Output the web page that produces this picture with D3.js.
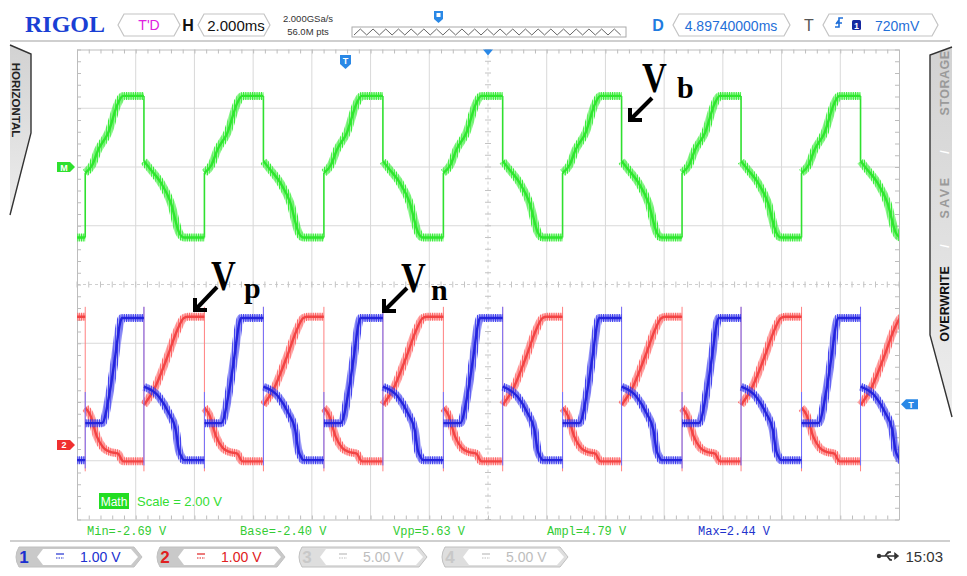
<!DOCTYPE html>
<html>
<head>
<meta charset="utf-8">
<script src="https://cdn.jsdelivr.net/npm/d3@7/dist/d3.min.js"></script>
<style>
body { margin: 0; background: #fff; }
svg { display: block; }
text { font-family: "Liberation Sans", Arial, sans-serif; }
</style>
</head>
<body>
<script>
var W = 967, H = 576;
var X0 = 77, X1 = 899, Y0 = 49.5, Y1 = 519.5;
var SERIF = "'Liberation Serif', 'Times New Roman', serif";
var MONO = "'Liberation Mono', 'DejaVu Sans Mono', monospace";

// time base: 14 div x 2 ms, 8 vertical div
var timeSpan = [0, 28];
var hDivs = 14, vDivs = 8;

// edge times (ms from left edge)
var riseTimes = [0.28, 4.34, 8.41, 12.48, 16.54, 20.61, 24.68];
var fallTimes = [-1.77, 2.28, 6.35, 10.42, 14.50, 18.55, 22.62, 26.69];

// half period shapes, [ms after edge, volts]
var mathOn  = [[0, -0.20], [0.24, 0.07], [0.44, 0.58], [0.78, 1.16], [1.12, 2.18], [1.29, 2.42], [2.10, 2.42]];
var mathOff = [[0, 0.20], [0.24, -0.10], [0.58, -0.54], [0.92, -1.23], [1.19, -2.21], [1.36, -2.40], [2.10, -2.40]];
var vpOn  = [[0, 0.63], [0.17, 0.51], [0.40, 0.14], [0.62, -0.05], [0.85, -0.12], [1.12, -0.15], [1.25, -0.26], [1.30, -0.28], [2.10, -0.28]];
var vpOff = [[0, 0.68], [0.34, 0.94], [0.80, 1.50], [1.14, 1.96], [1.36, 2.16], [1.50, 2.18], [2.10, 2.18]];
var vnOn  = [[0, 0.37], [0.57, 0.37], [0.85, 0.94], [1.02, 1.50], [1.19, 2.08], [1.25, 2.16], [2.10, 2.16]];
var vnOff = [[0, 0.99], [0.51, 0.82], [0.85, 0.54], [1.08, 0.26], [1.19, -0.09], [1.30, -0.22], [1.36, -0.26], [2.10, -0.26]];

// spike extents on the edges (volts)
var vpSpikeRise = [-0.45, 2.35], vpSpikeFall = [-0.45, 2.35];
var vnSpikeRise = [-0.40, 0.90], vnSpikeFall = [-0.35, 2.35];

// channel settings
var chNames  = ["1", "2", "3", "4"];
var chScales = ["1.00 V", "1.00 V", "5.00 V", "5.00 V"];
var chOffsets = [-2.73, -2.73];   // div
var mathScale = 2.00, mathOffset = 2.0;

// measurements
var measNames  = ["Min", "Base", "Vpp", "Ampl", "Max"];
var measValues = [-2.69, -2.40, 5.63, 4.79, 2.44];

var svg = d3.select("body").append("svg").attr("width", W).attr("height", H);
var defs = svg.append("defs");

defs.append("clipPath").attr("id", "plot")
    .append("rect").attr("x", X0).attr("y", Y0).attr("width", X1 - X0).attr("height", Y1 - Y0);

function hatch(id, color) {
    var p = defs.append("pattern").attr("id", id)
        .attr("patternUnits", "userSpaceOnUse").attr("width", 1.8).attr("height", 4);
    p.append("rect").attr("width", 1).attr("height", 4).attr("fill", color);
}
hatch("hR", "#ff6060");
hatch("hB", "#3a3aee");
hatch("hG", "#30ec30");

var gTab = defs.append("linearGradient").attr("id", "tab").attr("x1", 0).attr("x2", 0).attr("y1", 0).attr("y2", 1);
gTab.append("stop").attr("offset", 0).attr("stop-color", "#d2d2d2");
gTab.append("stop").attr("offset", 1).attr("stop-color", "#ededed");

// ---------- scales ----------
var x = d3.scaleLinear().domain(timeSpan).range([X0, X1]);
var xDiv = d3.scaleLinear().domain([0, hDivs]).range([X0, X1]);
var yDiv = d3.scaleLinear().domain([-vDivs / 2, vDivs / 2]).range([Y1, Y0]);
var yMath = d3.scaleLinear()
    .domain([(-4 - mathOffset) * mathScale, (4 - mathOffset) * mathScale]).range([Y1, Y0]);
var yCh1 = d3.scaleLinear().domain([-4 - chOffsets[0], 4 - chOffsets[0]]).range([Y1, Y0]);
var yCh2 = d3.scaleLinear().domain([-4 - chOffsets[1], 4 - chOffsets[1]]).range([Y1, Y0]);

// ---------- grid ----------
var grid = svg.append("g");
grid.selectAll(".vg").data(d3.range(1, hDivs).filter(function(d) { return d != 7; }))
    .enter().append("line")
    .attr("x1", function(d) { return xDiv(d); }).attr("x2", function(d) { return xDiv(d); })
    .attr("y1", Y0).attr("y2", Y1).attr("stroke", "#d9d9d9");
grid.selectAll(".hg").data(d3.range(-3, 4).filter(function(d) { return d != 0; }))
    .enter().append("line")
    .attr("y1", function(d) { return yDiv(d); }).attr("y2", function(d) { return yDiv(d); })
    .attr("x1", X0).attr("x2", X1).attr("stroke", "#d9d9d9");

// centre lines, dashed with crossing ticks
grid.append("line").attr("x1", xDiv(7)).attr("x2", xDiv(7)).attr("y1", Y0).attr("y2", Y1)
    .attr("stroke", "#cfcfcf").attr("stroke-dasharray", "3,3");
grid.append("line").attr("y1", yDiv(0)).attr("y2", yDiv(0)).attr("x1", X0).attr("x2", X1)
    .attr("stroke", "#cfcfcf").attr("stroke-dasharray", "3,3");
var minorX = d3.range(0, hDivs * 5 + 1).map(function(i) { return i / 5; });
var minorY = d3.range(0, vDivs * 5 + 1).map(function(i) { return i / 5 - 4; });
grid.selectAll(".cx").data(minorX).enter().append("line")
    .attr("x1", function(d) { return xDiv(d); }).attr("x2", function(d) { return xDiv(d); })
    .attr("y1", yDiv(0) - 3).attr("y2", yDiv(0) + 3).attr("stroke", "#c4c4c4");
grid.selectAll(".cy").data(minorY).enter().append("line")
    .attr("y1", function(d) { return yDiv(d); }).attr("y2", function(d) { return yDiv(d); })
    .attr("x1", xDiv(7) - 3).attr("x2", xDiv(7) + 3).attr("stroke", "#c4c4c4");

// frame with minor ticks through d3 axes
function styleAxis(g) {
    g.selectAll("path, line").attr("stroke", "#bdbdbd");
    g.selectAll("text").remove();
}
svg.append("g").attr("transform", "translate(0," + Y0 + ")")
    .call(d3.axisBottom(xDiv).tickValues(minorX).tickSize(4).tickSizeOuter(0)).call(styleAxis);
svg.append("g").attr("transform", "translate(0," + Y1 + ")")
    .call(d3.axisTop(xDiv).tickValues(minorX).tickSize(4).tickSizeOuter(0)).call(styleAxis);
svg.append("g").attr("transform", "translate(" + X0 + ",0)")
    .call(d3.axisRight(yDiv).tickValues(minorY).tickSize(4).tickSizeOuter(0)).call(styleAxis);
svg.append("g").attr("transform", "translate(" + X1 + ",0)")
    .call(d3.axisLeft(yDiv).tickValues(minorY).tickSize(4).tickSizeOuter(0)).call(styleAxis);

// ---------- traces ----------
var events = riseTimes.map(function(t) { return { t: t, rise: true }; })
    .concat(fallTimes.map(function(t) { return { t: t, rise: false }; }))
    .sort(function(a, b) { return a.t - b.t; });

function buildSegments(on, off) {
    return events.map(function(e, i) {
        var end = i < events.length - 1 ? events[i + 1].t : timeSpan[1] + 0.5;
        var dur = end - e.t;
        var shape = e.rise ? on : off;
        var pts = shape.filter(function(p) { return p[0] < dur; })
            .map(function(p) { return [e.t + p[0], p[1]]; });
        pts.push([end, pts[pts.length - 1][1]]);
        return { t: e.t, rise: e.rise, pts: pts };
    });
}

var traces = [
    { on: vpOn, off: vpOff, y: yCh2, color: "#f24444", soft: "#ffa0a0", band: "url(#hR)", spikeR: vpSpikeRise, spikeF: vpSpikeFall, edge: "#ff8080" },
    { on: vnOn, off: vnOff, y: yCh1, color: "#2424dc", soft: "#8a8af4", band: "url(#hB)", spikeR: vnSpikeRise, spikeF: vnSpikeFall, edge: "#7070ff" },
    { on: mathOn, off: mathOff, y: yMath, color: "#2ee62e", soft: "#8cf48c", band: "url(#hG)", edge: "#2ee02e" }
];

var plotG = svg.append("g").attr("clip-path", "url(#plot)");
traces.forEach(function(tr) {
    var segs = buildSegments(tr.on, tr.off);
    var line = d3.line()
        .x(function(d) { return x(d[0]); })
        .y(function(d) { return tr.y(d[1]); })
        .curve(d3.curveMonotoneX);
    var g = plotG.append("g");
    // edges
    segs.forEach(function(s, i) {
        if (i == 0) return;
        var prev = segs[i - 1].pts[segs[i - 1].pts.length - 1][1];
        var cur = s.pts[0][1];
        var span = [prev, cur];
        if (tr.spikeR) span = span.concat(s.rise ? tr.spikeR : tr.spikeF);
        g.append("line")
            .attr("x1", x(s.t)).attr("x2", x(s.t))
            .attr("y1", tr.y(d3.min(span))).attr("y2", tr.y(d3.max(span)))
            .attr("stroke", tr.edge).attr("stroke-width", tr.spikeR ? 1 : 1.6);
    });
    segs.forEach(function(s) {
        g.append("path").attr("d", line(s.pts)).attr("fill", "none")
            .attr("stroke", tr.soft).attr("stroke-width", 6).attr("opacity", 0.5);
        g.append("path").attr("d", line(s.pts)).attr("fill", "none")
            .attr("stroke", tr.band).attr("stroke-width", 8);
        g.append("path").attr("d", line(s.pts)).attr("fill", "none")
            .attr("stroke", tr.color).attr("stroke-width", 2.4);
    });
});

// ---------- markers ----------
function tagRight(x0, yc, color, label) {
    svg.append("path")
        .attr("d", "M" + x0 + "," + (yc - 5) + "H" + (x0 + 13) + "L" + (x0 + 18) + "," + yc +
              "L" + (x0 + 13) + "," + (yc + 5) + "H" + x0 + "Z")
        .attr("fill", color);
    svg.append("text").attr("x", x0 + 7).attr("y", yc + 3.5).attr("text-anchor", "middle")
        .attr("font-size", 9).attr("font-weight", "bold").attr("fill", "#fff").text(label);
}
tagRight(57, yDiv(mathOffset), "#2ee02e", "M");
tagRight(57, yDiv(chOffsets[1]), "#f03030", "2");

// trigger level tag on the right
var yT = yDiv(-2.04);
svg.append("path")
    .attr("d", "M901," + yT + "L906," + (yT - 5) + "H918V" + (yT + 5) + "H906Z").attr("fill", "#2a88e6");
svg.append("text").attr("x", 911).attr("y", yT + 3.5).attr("text-anchor", "middle")
    .attr("font-size", 9).attr("font-weight", "bold").attr("fill", "#fff").text("T");

// trigger position triangle and T shield at top
svg.append("path").attr("d", "M" + (xDiv(7) - 5) + "," + Y0 + "H" + (xDiv(7) + 5) + "L" + xDiv(7) + "," + (Y0 + 6) + "Z")
    .attr("fill", "#2a88e6");
svg.append("path").attr("d", "M340,55H351V64L345.5,69L340,64Z").attr("fill", "#2a88e6");
svg.append("text").attr("x", 345.5).attr("y", 64).attr("text-anchor", "middle")
    .attr("font-size", 9).attr("font-weight", "bold").attr("fill", "#fff").text("T");

// ---------- annotations ----------
function annot(vx, vy, sub, sx, sy, tail, tip) {
    svg.append("text").attr("transform", "translate(" + vx + "," + vy + ") scale(0.82,1)")
        .style("font-family", SERIF).attr("font-weight", "bold")
        .attr("font-size", 42).attr("fill", "#000").text("V");
    svg.append("text").attr("x", sx).attr("y", sy)
        .style("font-family", SERIF).attr("font-weight", "bold")
        .attr("font-size", 30).attr("fill", "#000").text(sub);
    svg.append("line").attr("x1", tail[0]).attr("y1", tail[1]).attr("x2", tip[0] + 2).attr("y2", tip[1] - 2)
        .attr("stroke", "#000").attr("stroke-width", 4);
    svg.append("path").attr("d", "M" + (tip[0] + 12) + "," + tip[1] + "H" + tip[0] + "V" + (tip[1] - 12))
        .attr("fill", "none").attr("stroke", "#000").attr("stroke-width", 4);
}
annot(642, 92, "b", 677, 98, [652, 98], [630, 120]);
annot(211, 290, "p", 244, 298, [217, 287], [195, 310]);
annot(401, 292, "n", 431, 300, [407, 288], [384, 311]);

// Math label
svg.append("rect").attr("x", 99).attr("y", 493).attr("width", 30).attr("height", 16).attr("fill", "#22dd22");
svg.append("text").attr("x", 114).attr("y", 505.5).attr("text-anchor", "middle")
    .attr("font-size", 12).attr("fill", "#fff").text("Math");
svg.append("text").attr("x", 137).attr("y", 506).attr("font-size", 13).attr("fill", "#33dd33")
    .text("Scale = " + d3.format(".2f")(mathScale) + " V");

// measurements
var measX = [87, 240, 393, 547, 698];
var fmt = d3.format(".2f");
measNames.forEach(function(n, i) {
    svg.append("text").attr("x", measX[i]).attr("y", 535)
        .style("font-family", MONO).attr("font-size", 12)
        .attr("fill", n == "Max" ? "#2233cc" : "#33cc33")
        .text(n + "=" + fmt(measValues[i]).replace("\u2212", "-") + " V");
});

// ---------- top bar ----------
function hexBox(x0, x1, y0, y1, stroke) {
    var ym = (y0 + y1) / 2;
    svg.append("path")
        .attr("d", "M" + x0 + "," + ym + "L" + (x0 + 6) + "," + y0 + "H" + (x1 - 6) + "L" + x1 + "," + ym +
              "L" + (x1 - 6) + "," + y1 + "H" + (x0 + 6) + "Z")
        .attr("fill", "#fff").attr("stroke", stroke || "#c4c4c4").attr("stroke-width", 1.2);
}
svg.append("text").attr("x", 25).attr("y", 32).style("font-family", SERIF)
    .attr("font-weight", "bold").attr("font-size", 24).attr("fill", "#1a3fd4").text("RIGOL");
hexBox(118, 180, 14, 36);
svg.append("text").attr("x", 149).attr("y", 30).attr("text-anchor", "middle").attr("font-size", 14)
    .attr("fill", "#e020e0").text("T'D");
svg.append("text").attr("x", 188).attr("y", 31).attr("text-anchor", "middle").attr("font-size", 16)
    .attr("font-weight", "bold").attr("fill", "#111").text("H");
hexBox(198, 270, 14, 36);
svg.append("text").attr("x", 236).attr("y", 30.5).attr("text-anchor", "middle").attr("font-size", 15)
    .attr("fill", "#111").text("2.000ms");
svg.append("text").attr("x", 308).attr("y", 22).attr("text-anchor", "middle").attr("font-size", 9.5)
    .attr("fill", "#333").text("2.000GSa/s");
svg.append("text").attr("x", 308).attr("y", 34.5).attr("text-anchor", "middle").attr("font-size", 9.5)
    .attr("fill", "#333").text("56.0M pts");

// memory bar
svg.append("rect").attr("x", 352).attr("y", 27).attr("width", 274).attr("height", 10)
    .attr("fill", "#fff").attr("stroke", "#aaa");
var zig = d3.range(0, 43).map(function(i) { return [354 + i * 6.35, i % 2 ? 29 : 35]; });
svg.append("path").attr("d", d3.line()(zig)).attr("fill", "none").attr("stroke", "#666").attr("stroke-width", 1);
svg.append("path").attr("d", "M434,11H443V19L438.5,23L434,19Z").attr("fill", "#2a88e6");
svg.append("rect").attr("x", 436.5).attr("y", 13).attr("width", 4).attr("height", 4).attr("fill", "#fff");

svg.append("text").attr("x", 658).attr("y", 31).attr("text-anchor", "middle").attr("font-size", 16)
    .attr("font-weight", "bold").attr("fill", "#1f7be0").text("D");
hexBox(673, 790, 14, 36);
svg.append("text").attr("x", 731).attr("y", 30.5).attr("text-anchor", "middle").attr("font-size", 14)
    .attr("fill", "#1f6fd8").text("4.89740000ms");
svg.append("text").attr("x", 809).attr("y", 31).attr("text-anchor", "middle").attr("font-size", 16)
    .attr("fill", "#555").text("T");
hexBox(823, 938, 14, 36);
svg.append("path").attr("d", "M835,27H839V18H843M836,23H842M839,20L836,24").attr("fill", "none")
    .attr("stroke", "#1f6fd8").attr("stroke-width", 1.6);
svg.append("rect").attr("x", 852).attr("y", 20).attr("width", 9).attr("height", 10).attr("rx", 1.5).attr("fill", "#1428a0");
svg.append("text").attr("x", 856.5).attr("y", 28.5).attr("text-anchor", "middle").attr("font-size", 9)
    .attr("font-weight", "bold").attr("fill", "#fff").text("1");
svg.append("text").attr("x", 875).attr("y", 30.5).attr("font-size", 14).attr("fill", "#1f6fd8").text("720mV");

svg.append("line").attr("x1", 10).attr("x2", 950).attr("y1", 41).attr("y2", 41)
    .attr("stroke", "#cfcfcf").attr("stroke-width", 2);
svg.append("line").attr("x1", 10).attr("x2", 950).attr("y1", 541).attr("y2", 541)
    .attr("stroke", "#cfcfcf").attr("stroke-width", 2);

// ---------- side tabs ----------
svg.append("path").attr("d", "M10,45L31,54V133L10,215Z").attr("fill", "url(#tab)");
svg.append("path").attr("d", "M10,45L31,54V133L10,215").attr("fill", "none").attr("stroke", "#333").attr("stroke-width", 1.4);
svg.append("text").attr("transform", "translate(12,100) rotate(90)").attr("text-anchor", "middle")
    .attr("font-size", 11.5).attr("font-weight", "bold").attr("fill", "#222").text("HORIZONTAL");

svg.append("path").attr("d", "M952,47L930,55V335L952,417Z").attr("fill", "url(#tab)");
svg.append("path").attr("d", "M952,47L930,55V335L952,417").attr("fill", "none").attr("stroke", "#333").attr("stroke-width", 1.4);
var sideItems = [
    { t: "OVERWRITE", y: 304, c: "#111", w: "bold", ls: 0 },
    { t: "/", y: 246, c: "#fff", w: "bold", ls: 0 },
    { t: "SAVE", y: 197, c: "#9a9a9a", w: "bold", ls: 2.5 },
    { t: "/", y: 152, c: "#fff", w: "bold", ls: 0 },
    { t: "STORAGE", y: 83, c: "#9a9a9a", w: "bold", ls: 0.5 }
];
sideItems.forEach(function(s) {
    svg.append("text").attr("transform", "translate(949," + s.y + ") rotate(-90)").attr("text-anchor", "middle")
        .attr("font-size", 12.5).attr("font-weight", s.w).attr("letter-spacing", s.ls)
        .attr("fill", s.c).text(s.t);
});

// ---------- channel tabs ----------
var tabX = [[13, 142], [154, 285], [296, 427], [439, 568]];
var tabNumColor = ["#1a2fd0", "#e02020", "#c8c8c8", "#c8c8c8"];
var tabTxtColor = ["#2030d0", "#e02020", "#bdbdbd", "#bdbdbd"];
chNames.forEach(function(n, i) {
    var x0 = tabX[i][0], x1 = tabX[i][1], y0 = 547, y1 = 567, ym = 557;
    svg.append("path")
        .attr("d", "M" + (x0 + 6) + "," + y0 + "H" + (x1 - 8) + "L" + x1 + "," + ym + "L" + (x1 - 8) + "," + y1 +
              "H" + (x0 + 6) + "Q" + x0 + "," + ym + " " + (x0 + 6) + "," + y0 + "Z")
        .attr("fill", i < 2 ? "#c9c9c9" : "#dedede").attr("stroke", "#c0c0c0");
    svg.append("path")
        .attr("d", "M" + (x0 + 24) + "," + ym + "L" + (x0 + 30) + "," + (y0 + 2) + "H" + (x1 - 11) + "L" + (x1 - 4) + "," + ym +
              "L" + (x1 - 11) + "," + (y1 - 2) + "H" + (x0 + 30) + "Z")
        .attr("fill", "#fff");
    svg.append("text").attr("x", x0 + 11).attr("y", 563).attr("text-anchor", "middle")
        .attr("font-size", 17).attr("font-weight", "bold").attr("fill", tabNumColor[i]).text(n);
    svg.append("line").attr("x1", x0 + 43).attr("x2", x0 + 51).attr("y1", 554).attr("y2", 554)
        .attr("stroke", tabTxtColor[i]).attr("stroke-width", 1.2);
    svg.append("line").attr("x1", x0 + 43).attr("x2", x0 + 51).attr("y1", 558).attr("y2", 558)
        .attr("stroke", tabTxtColor[i]).attr("stroke-width", 1.2).attr("stroke-dasharray", "1.5,1");
    svg.append("text").attr("x", x0 + 67).attr("y", 562).attr("font-size", 14)
        .attr("fill", tabTxtColor[i]).text(chScales[i]);
});

// usb + clock
svg.append("circle").attr("cx", 879).attr("cy", 556).attr("r", 2.2).attr("fill", "#333");
svg.append("path").attr("d", "M879,556H895M885,556L888,552H891M887,556L890,560H892M895,553.5L898,556L895,558.5Z")
    .attr("fill", "#333").attr("stroke", "#333").attr("stroke-width", 1.5);
svg.append("text").attr("x", 943).attr("y", 562).attr("text-anchor", "end").attr("font-size", 15)
    .attr("fill", "#333").text("15:03");
</script>
</body>
</html>
